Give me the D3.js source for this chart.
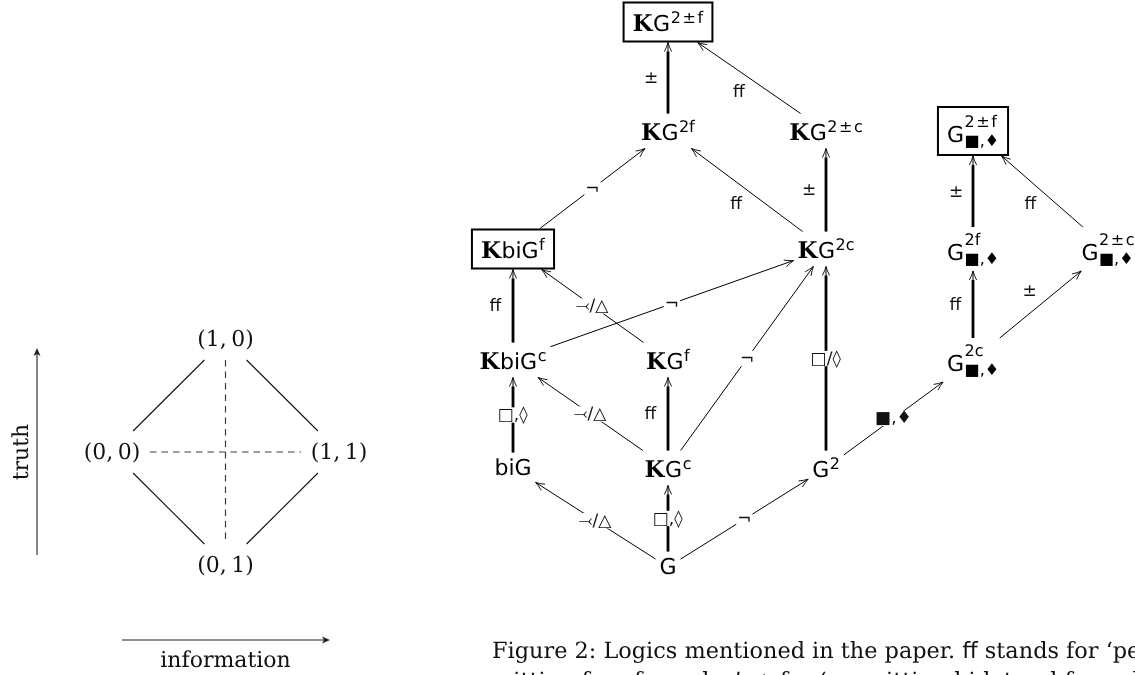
<!DOCTYPE html>
<html>
<head>
<meta charset="utf-8">
<script src="https://cdn.jsdelivr.net/npm/d3@7/dist/d3.min.js"></script>
<style>
html,body{margin:0;padding:0;background:#fff;}
svg{display:block;will-change:transform;}
text{text-rendering:geometricPrecision;}
</style>
</head>
<body>
<svg id="chart" width="1135" height="675"></svg>
<script>
// ---------------- data ----------------
// Left: the four values of the bilattice, each a pair (a, b)
const latticeValues = [[1,0],[0,0],[1,1],[0,1]];
const latticeSolidPairs = [[0,1],[0,2],[1,3],[2,3]];
const latticeDashedPairs = [[0,3],[1,2]];
const orderLabels = ["truth", "information"];

// Right: the logics (column / row in the diagram)
const logicNodes = [
  {id:"KG2pmf",  k:true,  base:"G",   sup:"2\u200a±\u200af", sub:null,  col:1, row:0, boxed:true},
  {id:"KG2f",    k:true,  base:"G",   sup:"2f",  sub:null,  col:1, row:1},
  {id:"KG2pmc",  k:true,  base:"G",   sup:"2\u200a±\u200ac", sub:null,  col:2, row:1},
  {id:"G2pmfBD", k:false, base:"G",   sup:"2\u200a±\u200af", sub:"■,♦", col:3, row:1, boxed:true},
  {id:"KbiGf",   k:true,  base:"biG", sup:"f",   sub:null,  col:0, row:2, boxed:true},
  {id:"KG2c",    k:true,  base:"G",   sup:"2c",  sub:null,  col:2, row:2},
  {id:"G2fBD",   k:false, base:"G",   sup:"2f",  sub:"■,♦", col:3, row:2},
  {id:"G2pmcBD", k:false, base:"G",   sup:"2\u200a±\u200ac", sub:"■,♦", col:4, row:2},
  {id:"KbiGc",   k:true,  base:"biG", sup:"c",   sub:null,  col:0, row:3},
  {id:"KGf",     k:true,  base:"G",   sup:"f",   sub:null,  col:1, row:3},
  {id:"G2cBD",   k:false, base:"G",   sup:"2c",  sub:"■,♦", col:3, row:3},
  {id:"biG",     k:false, base:"biG", sup:null,  sub:null,  col:0, row:4},
  {id:"KGc",     k:true,  base:"G",   sup:"c",   sub:null,  col:1, row:4},
  {id:"G2",      k:false, base:"G",   sup:"2",   sub:null,  col:2, row:4},
  {id:"G",       k:false, base:"G",   sup:null,  sub:null,  col:1, row:5}
];

const logicEdges = [
  {from:"KG2f",    to:"KG2pmf",  label:"±",   thick:true,  place:"left"},
  {from:"KG2pmc",  to:"KG2pmf",  label:"ff",  thick:false, place:"left"},
  {from:"KbiGf",   to:"KG2f",    label:"¬",   thick:false, place:"on"},
  {from:"KG2c",    to:"KG2f",    label:"ff",  thick:false, place:"left"},
  {from:"KG2c",    to:"KG2pmc",  label:"±",   thick:true,  place:"left"},
  {from:"KbiGc",   to:"KbiGf",   label:"ff",  thick:true,  place:"left"},
  {from:"KGf",     to:"KbiGf",   label:"⤙/△", thick:false, place:"on"},
  {from:"KbiGc",   to:"KG2c",    label:"¬",   thick:false, place:"on"},
  {from:"biG",     to:"KbiGc",   label:"□,◊", thick:true,  place:"on"},
  {from:"KGc",     to:"KbiGc",   label:"⤙/△", thick:false, place:"on"},
  {from:"KGc",     to:"KGf",     label:"ff",  thick:true,  place:"left"},
  {from:"KGc",     to:"KG2c",    label:"¬",   thick:false, place:"on"},
  {from:"G2",      to:"KG2c",    label:"□/◊", thick:true,  place:"on"},
  {from:"G",       to:"biG",     label:"⤙/△", thick:false, place:"on"},
  {from:"G",       to:"KGc",     label:"□,◊", thick:true,  place:"on"},
  {from:"G",       to:"G2",      label:"¬",   thick:false, place:"on"},
  {from:"G2",      to:"G2cBD",   label:"■,♦", thick:false, place:"on"},
  {from:"G2cBD",   to:"G2fBD",   label:"ff",  thick:true,  place:"left"},
  {from:"G2cBD",   to:"G2pmcBD", label:"±",   thick:false, place:"left"},
  {from:"G2fBD",   to:"G2pmfBD", label:"±",   thick:true,  place:"left"},
  {from:"G2pmcBD", to:"G2pmfBD", label:"ff",  thick:false, place:"left"}
];

const captionLine1 = [
  {t:"Figure 2: Logics mentioned in the paper. ", sans:false},
  {t:"ff", sans:true},
  {t:" stands for ‘per-", sans:false}
];
const captionLine2 = [
  {t:"mitting free formulas’, ", sans:false},
  {t:"△", sans:true},
  {t:" for ‘permitting bi-lateral formulas’", sans:false}
];

// ---------------- drawing ----------------
const SANS = "DejaVu Sans", SERIF = "DejaVu Serif";
const svg = d3.select("#chart");

function clipRectHalf(c, p, hw, hh){
  const dx = p[0]-c[0], dy = p[1]-c[1];
  let t = Infinity;
  if (dx) t = Math.min(t, hw/Math.abs(dx));
  if (dy) t = Math.min(t, hh/Math.abs(dy));
  return [c[0]+dx*t, c[1]+dy*t];
}

function draw(){
  // ===== left lattice =====
  const infoScale  = d3.scaleLinear().domain([0,2]).range([112,339]);
  const truthScale = d3.scaleLinear().domain([-1,1]).range([565,339]);
  const latPos = v => [infoScale(v[0]+v[1]), truthScale(v[0]-v[1])];
  const LHW = 38, LHH = 21;
  const left = svg.append("g");

  function latLine(pair, dashed){
    const a = latPos(latticeValues[pair[0]]), b = latPos(latticeValues[pair[1]]);
    const p0 = clipRectHalf(a, b, LHW, LHH), p1 = clipRectHalf(b, a, LHW, LHH);
    left.append("line")
      .attr("x1",p0[0]).attr("y1",p0[1]).attr("x2",p1[0]).attr("y2",p1[1])
      .attr("stroke", dashed ? "#3a3a3a" : "#111")
      .attr("stroke-width", dashed ? 1.2 : 1.1)
      .attr("stroke-dasharray", dashed ? "6.5,5" : null);
  }
  latticeDashedPairs.forEach(p => latLine(p, true));
  latticeSolidPairs.forEach(p => latLine(p, false));

  left.selectAll("text.val").data(latticeValues).join("text")
    .attr("class","val")
    .attr("x", d => latPos(d)[0])
    .attr("y", d => latPos(d)[1] + 7)
    .attr("text-anchor","middle")
    .attr("font-family", SERIF).attr("font-size", 22).attr("fill","#111")
    .text(d => `(${d[0]},\u2009${d[1]})`);

  // order arrows
  const ax = 37, ay = 640;
  const tBot = truthScale(-1) - 10, tTop = truthScale(1) + 9;
  left.append("line").attr("x1",ax).attr("y1",tBot).attr("x2",ax).attr("y2",tTop+3)
    .attr("stroke","#222").attr("stroke-width",1.1);
  left.append("path")
    .attr("d", `M${ax},${tTop} L${ax-3.5},${tTop+8} L${ax},${tTop+6} L${ax+3.5},${tTop+8} Z`)
    .attr("fill","#222");
  const iL = infoScale(0) + 10, iR = infoScale(2) - 9;
  left.append("line").attr("x1",iL).attr("y1",ay).attr("x2",iR-3).attr("y2",ay)
    .attr("stroke","#222").attr("stroke-width",1.1);
  left.append("path")
    .attr("d", `M${iR},${ay} L${iR-8},${ay-3.5} L${iR-6},${ay} L${iR-8},${ay+3.5} Z`)
    .attr("fill","#222");
  left.append("text")
    .attr("transform", `translate(28,${truthScale(0)}) rotate(-90)`)
    .attr("text-anchor","middle").attr("font-family",SERIF).attr("font-size",22).attr("fill","#111")
    .text(orderLabels[0]);
  left.append("text")
    .attr("x", infoScale(1)).attr("y", 667)
    .attr("text-anchor","middle").attr("font-family",SERIF).attr("font-size",22).attr("fill","#111")
    .text(orderLabels[1]);

  // ===== right diagram =====
  const colScale = d3.scaleLinear().domain([0,1,2,3,4]).range([513,668,826,973,1108]);
  const rowScale = d3.scaleLinear().domain([0,1,2,3,4,5]).range([22,131,249,360,468,567]);

  const edgeLayer = svg.append("g");
  const labelLayer = svg.append("g");
  const nodeLayer = svg.append("g");
  const byId = {};

  logicNodes.forEach(n => {
    const g = nodeLayer.append("g");
    let x = 0;
    if (n.k){
      const t = g.append("text").attr("x",0).attr("y",0)
        .attr("font-family",SERIF).attr("font-weight","bold").attr("font-size",23).text("K");
      x += t.node().getComputedTextLength() + 0.5;
    }
    const b = g.append("text").attr("x",x).attr("y",0)
      .attr("font-family",SANS).attr("font-size",22).text(n.base);
    x += b.node().getComputedTextLength() + 0.5;
    if (n.sup){
      g.append("text").attr("x",x).attr("y", n.sub ? -15 : -8)
        .attr("font-family",SANS).attr("font-size",16).text(n.sup);
    }
    if (n.sub){
      g.append("text").attr("x",x).attr("y",4)
        .attr("font-family",SANS).attr("font-size",16).text(n.sub);
    }
    const bb = g.node().getBBox();
    const cx = colScale(n.col), cy = rowScale(n.row);
    const tx = cx - (bb.x + bb.width/2), ty = cy - (bb.y + bb.height/2);
    g.attr("transform", `translate(${tx},${ty})`);
    n.cx = cx; n.cy = cy;
    if (n.boxed){
      const hw = bb.width/2 + 9, hh = bb.height/2 + 5;
      nodeLayer.insert("rect", ":first-child")
        .attr("x", cx-hw).attr("y", cy-hh).attr("width", 2*hw).attr("height", 2*hh)
        .attr("fill","#fff").attr("stroke","#000").attr("stroke-width",2);
      n.hw = hw + 1; n.hh = hh + 1;
    } else {
      n.hw = bb.width/2 + 4; n.hh = bb.height/2 + 3;
    }
    byId[n.id] = n;
  });

  logicEdges.forEach(e => {
    const s = byId[e.from], t = byId[e.to];
    const c0 = [s.cx, s.cy], c1 = [t.cx, t.cy];
    const p0 = clipRectHalf(c0, c1, s.hw, s.hh);
    const p1 = clipRectHalf(c1, c0, t.hw, t.hh);
    const dx = p1[0]-p0[0], dy = p1[1]-p0[1], L = Math.hypot(dx,dy);
    const u = [dx/L, dy/L], nl = [u[1], -u[0]];
    edgeLayer.append("line")
      .attr("x1",p0[0]).attr("y1",p0[1]).attr("x2",p1[0]).attr("y2",p1[1])
      .attr("stroke","#000").attr("stroke-width",1);
    if (e.thick){
      const q = [p1[0]-u[0]*9, p1[1]-u[1]*9];
      edgeLayer.append("line")
        .attr("x1",p0[0]).attr("y1",p0[1]).attr("x2",q[0]).attr("y2",q[1])
        .attr("stroke","#000").attr("stroke-width",2.8);
    }
    const w1 = [p1[0]-u[0]*9+nl[0]*3.6, p1[1]-u[1]*9+nl[1]*3.6];
    const w2 = [p1[0]-u[0]*9-nl[0]*3.6, p1[1]-u[1]*9-nl[1]*3.6];
    const m1 = [p1[0]-u[0]*4+nl[0]*1.0, p1[1]-u[1]*4+nl[1]*1.0];
    const m2 = [p1[0]-u[0]*4-nl[0]*1.0, p1[1]-u[1]*4-nl[1]*1.0];
    edgeLayer.append("path")
      .attr("d", `M${w1} Q${m1} ${p1} Q${m2} ${w2}`)
      .attr("fill","none").attr("stroke","#000").attr("stroke-width",0.9);

    const mid = [(p0[0]+p1[0])/2, (p0[1]+p1[1])/2];
    const fs = 17;
    const lt = labelLayer.append("text").attr("x",0).attr("y",0)
      .attr("font-family",SANS).attr("font-size",fs).attr("fill","#111").text(e.label);
    const lb = lt.node().getBBox();
    let c;
    if (e.place === "on") c = mid;
    else c = [mid[0]+nl[0]*17, mid[1]+nl[1]*17];
    const tx = c[0] - (lb.x + lb.width/2), ty = c[1] - (lb.y + lb.height/2);
    lt.attr("transform", `translate(${tx},${ty})`);
    if (e.place === "on"){
      labelLayer.insert("rect", () => lt.node())
        .attr("x", c[0]-lb.width/2-1).attr("y", c[1]-fs*0.45)
        .attr("width", lb.width+2).attr("height", fs*0.9)
        .attr("fill","#fff");
    }
  });

  // ===== caption =====
  function captionLine(parts, y){
    const t = svg.append("text").attr("x",492).attr("y",y)
      .attr("font-size",22.4).attr("fill","#111");
    parts.forEach(p => t.append("tspan")
      .attr("font-family", p.sans ? SANS : SERIF).text(p.t));
  }
  captionLine(captionLine1, 658);
  captionLine(captionLine2, 688);
}

if (document.fonts && document.fonts.ready) document.fonts.ready.then(draw); else draw();
</script>
</body>
</html>
